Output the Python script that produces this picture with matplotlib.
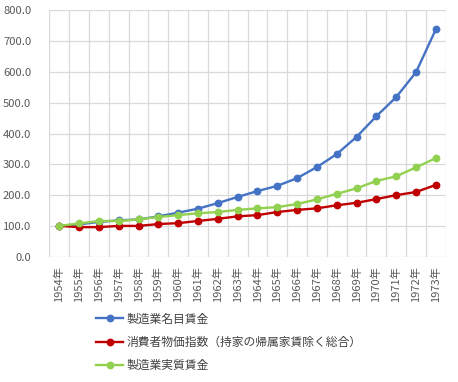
import matplotlib
matplotlib.use("Agg")
import matplotlib.pyplot as plt
import numpy as np

plt.rcParams['font.family'] = ['Noto Sans CJK JP', 'DejaVu Sans']

years = [f"{y}年" for y in range(1954, 1974)]
nominal_wage = [100, 105, 113, 118, 121, 131, 143, 156, 174, 194, 213, 230, 255, 291, 333, 389, 456, 518, 599, 738]
cpi = [100, 96, 96, 100, 100, 106, 109, 116, 123, 131, 135, 145, 152, 157, 167, 175, 187, 200, 210, 233]
real_wage = [100, 108, 116, 116, 121, 129, 135, 141, 145, 152, 157, 161, 171, 186, 204, 222, 246, 261, 290, 320]
series_names = ["製造業名目賃金", "消費者物価指数（持家の帰属家賃除く総合）", "製造業実質賃金"]
colors = ["#4472C4", "#C00000", "#92D050"]
yticks = [0, 100, 200, 300, 400, 500, 600, 700, 800]

fig = plt.figure(figsize=(4.58, 3.82), dpi=100)
ax = fig.add_axes([0.1077, 0.328, 0.8655, 0.645])

x = np.arange(len(years))
for vals, name, c in zip([nominal_wage, cpi, real_wage], series_names, colors):
    ax.plot(x, vals, color=c, lw=1.7, marker='o', ms=4.6, label=name, zorder=3)

ax.set_xlim(-0.5, len(years) - 0.5)
ax.set_ylim(0, 800)
ax.set_yticks(yticks)
ax.set_yticklabels([f"{v:.1f}" for v in yticks], fontsize=8.1, color="#595959")
ax.set_xticks(x)
ax.set_xticklabels(years, rotation=90, fontsize=8, color="#595959")
ax.set_xticks(np.arange(-0.5, len(years), 1), minor=True)
ax.tick_params(which='both', length=0)
ax.tick_params(axis='y', pad=13)
ax.tick_params(axis='x', pad=7)
ax.grid(True, axis='y', which='major', color='#D9D9D9', lw=0.9)
ax.grid(True, axis='x', which='minor', color='#D9D9D9', lw=0.9)
for s in ax.spines.values():
    s.set_visible(False)
ax.set_axisbelow(True)

leg = fig.legend(loc='upper left', bbox_to_anchor=(0.21, 0.182), frameon=False,
                 fontsize=8.5, handlelength=2.3, handletextpad=0.25, labelspacing=0.88,
                 borderaxespad=0, borderpad=0)
for t in leg.get_texts():
    t.set_color("#404040")

fig.savefig("out.png", dpi=100)
